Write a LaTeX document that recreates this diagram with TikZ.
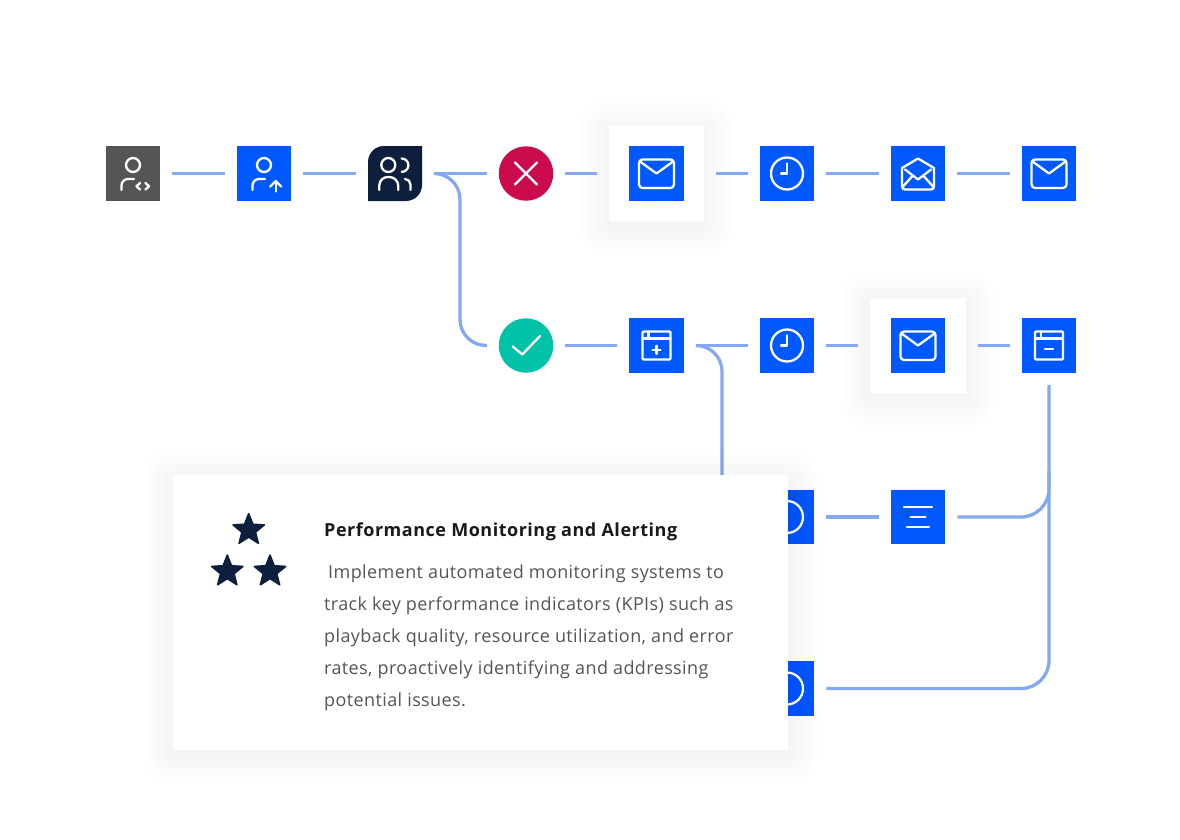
\documentclass[tikz,border=0pt]{standalone}
\usepackage{fontspec}
\setmainfont{Open Sans}
\newfontfamily\titlefont[LetterSpace=2.9]{Open Sans}
\newfontfamily\bodyfont[LetterSpace=2.2]{Open Sans}
\usetikzlibrary{calc, shapes.geometric}
\definecolor{flowblue}{HTML}{0059FF}
\definecolor{flowline}{HTML}{85A9F0}
\definecolor{flownavy}{HTML}{0D1F3C}
\definecolor{flowgray}{HTML}{555555}
\definecolor{flowred}{HTML}{CC0A4E}
\definecolor{flowgreen}{HTML}{00C2A8}
\tikzset{
  iconbox/.style={fill=flowblue, minimum size=54.5, inner sep=0, outer sep=12},
  roundbox/.style={circle, minimum size=54.5, inner sep=0, outer sep=12},
  mailcard/.style={fill=white, minimum size=95.5, inner sep=0, outer sep=12},
  conn/.style={draw=flowline, line width=3.3},
  glyph/.style={draw=white, line width=2.3, line cap=round, line join=round},
  staricon/.style={star, star points=5, star point ratio=2.3, fill=flownavy, draw=flownavy,
    line width=1.5, line join=round, minimum size=33, inner sep=0},
  pics/headshape/.style={code={
    \draw[glyph] (#1,-8.5) circle (7);
  }},
  pics/coder/.style={code={
    \pic {headshape=0};
    \draw[glyph] (-11.5,16.5) -- (-11.5,12) arc (180:270:6.5) -- (1,5.5);
    \draw[glyph] (7,9.5) -- (3.5,12.8) -- (7,16);
    \draw[glyph] (12.5,9.5) -- (16,12.8) -- (12.5,16);
  }},
  pics/uploader/.style={code={
    \pic {headshape=0};
    \draw[glyph] (-11.5,16.5) -- (-11.5,12) arc (180:270:6.5) -- (1,5.5);
    \draw[glyph] (11.7,18) -- (11.7,8);
    \draw[glyph] (6.2,13) -- (11.7,7.5) -- (17.2,13);
  }},
  pics/team/.style={code={
    \pic {headshape=-6.7};
    \draw[glyph] (6.7,-15) arc (-90:90:6.7);
    \draw[glyph] (-15.7,16.5) -- (-15.7,12) arc (180:270:8.5) -- (-5.7,3.5) arc (270:360:9) -- (3.3,16.5);
    \draw[glyph] (10,5.5) arc (270:360:5.5) -- (15.5,16.5);
  }},
  pics/mailicon/.style={code={
    \draw[glyph, rounded corners=3.5] (-17.5,-14) rectangle (17.5,14.5);
    \draw[glyph] (-16.5,-12) -- (0,0) -- (16.5,-12);
  }},
  pics/clockicon/.style={code={
    \draw[glyph] (0,0) circle (16);
    \draw[glyph] (0,-10) -- (0,0) -- (-6,0);
  }},
  pics/openmail/.style={code={
    \draw[glyph] (0,-15) -- (-16,-5.5) -- (-16,13) arc (180:90:3) -- (13,16) arc (90:0:3) -- (16,-5.5) -- cycle;
    \draw[glyph] (-13,-4) -- (0,6) -- (13,-4);
    \draw[glyph] (-15,13) -- (-6,3);
    \draw[glyph] (15,13) -- (6,3);
  }},
  pics/windowframe/.style={code={
    \draw[glyph, rounded corners=1] (-14,-14) rectangle (14,14);
    \draw[glyph] (-14,-7) -- (14,-7);
    \draw[glyph] (-8,-14) -- (-8,-7);
  }},
  pics/windowplus/.style={code={
    \pic {windowframe};
    \draw[glyph] (-4,4.3) -- (4,4.3);
    \draw[glyph] (0,0.3) -- (0,8.3);
  }},
  pics/windowminus/.style={code={
    \pic {windowframe};
    \draw[glyph] (-4,3.5) -- (4,3.5);
  }},
  pics/alignicon/.style={code={
    \draw[glyph] (-14,-10) -- (14,-10);
    \draw[glyph] (-7.5,0) -- (7.5,0);
    \draw[glyph] (-11,10) -- (11,10);
  }},
}
% soft shadow: centre, half width, half height
\newcommand{\softshadow}[3]{
  \foreach \g in {3,6,...,30}
    \fill[black, opacity=0.004, rounded corners=\g]
      ($(#1)+(-#2-\g,-#3-\g+4)$) rectangle ($(#1)+(#2+\g,#3+\g+4)$);
}
\begin{document}
\begin{tikzpicture}[x=1pt, y=-1pt]
  \useasboundingbox (0,0) rectangle (1180,840);
  \fill[white] (0,0) rectangle (1180,840);

  \softshadow{656.5,173.5}{47.75}{47.75}
  \softshadow{918,345.5}{47.75}{47.75}
  \node[mailcard] (cardA) at (656.5,173.5) {};
  \node[mailcard] (cardB) at (918,345.5) {};

  \node[iconbox, fill=flowgray] (coder) at (133,173.5) {};
  \pic at (coder) {coder};
  \node[iconbox] (upload) at (264,173.5) {};
  \pic at (upload) {uploader};
  \fill[flownavy] (368,201) -- (368,162) arc (180:270:16) -- (422,146) -- (422,185) arc (0:90:16) -- cycle;
  \node[iconbox, fill=none] (team) at (395,173.5) {};
  \pic at (team) {team};

  \node[roundbox, fill=flowred] (reject) at (526,173.5) {};
  \draw[glyph] (515,162.5) -- (537,184.5);
  \draw[glyph] (537,162.5) -- (515,184.5);
  \node[roundbox, fill=flowgreen] (accept) at (526,345.5) {};
  \draw[glyph] (512.7,346.5) -- (522.3,354.5) -- (540,336);

  \foreach \n/\x/\y/\ic in {mailA/656.5/173.5/mailicon, clockA/787/173.5/clockicon,
      openA/918/173.5/openmail, mailB/1049/173.5/mailicon,
      plusA/656.5/345.5/windowplus, clockB/787/345.5/clockicon,
      mailC/918/345.5/mailicon, minusA/1049/345.5/windowminus,
      clockC/787/517/clockicon, alignA/918/517/alignicon, clockD/787/688.5/clockicon} {
    \node[iconbox] (\n) at (\x,\y) {};
    \pic at (\n) {\ic};
  }

  \coordinate (bendA) at (460,260);
  \coordinate (bendB) at (722,500);
  \coordinate (bendC) at (1049,470);

  % first row
  \draw[conn] (coder) -- (upload);
  \draw[conn] (upload) -- (team);
  \draw[conn] (team) -- (reject);
  \draw[conn] (reject) -- (cardA);
  \draw[conn] (cardA) -- (clockA);
  \draw[conn] (clockA) -- (openA);
  \draw[conn] (openA) -- (mailB);
  % second row
  \draw[conn, rounded corners=26] (team.east) -| (bendA) |- (accept.west);
  \draw[conn] (accept) -- (plusA);
  \draw[conn] (plusA) -- (clockB);
  \draw[conn] (clockB) -- (cardB);
  \draw[conn] (cardB) -- (minusA);
  % lower rows
  \draw[conn, rounded corners=26] (plusA.east) -| (bendB);
  \draw[conn] (clockC) -- (alignA);
  \draw[conn, rounded corners=28] (alignA.east) -| (bendC);
  \draw[conn, rounded corners=28] (minusA.south) |- (clockD.east);

  \softshadow{480.5,612.5}{307.5}{137.5}
  \node[fill=white, minimum width=615, minimum height=275, inner sep=0] (panel) at (480.5,612.5) {};
  \node[staricon] (starA) at (248.7,530) {};
  \node[staricon] (starB) at (227.3,571.5) {};
  \node[staricon] (starC) at (270,571.5) {};

  \node[anchor=base west, inner sep=0, font=\titlefont\fontsize{18}{32}\selectfont\bfseries, text=black!90] (title) at (324,536.5)
    {Performance Monitoring and Alerting};
  \node[anchor=north west, inner sep=0, align=left, font=\bodyfont\fontsize{18}{32}\selectfont, text=flowgray] (body) at (324,565)
    {\hspace*{4pt}Implement automated monitoring systems to\\
     track key performance indicators (KPIs) such as\\
     playback quality, resource utilization, and error\\
     rates, proactively identifying and addressing\\
     potential issues.};
\end{tikzpicture}
\end{document}
